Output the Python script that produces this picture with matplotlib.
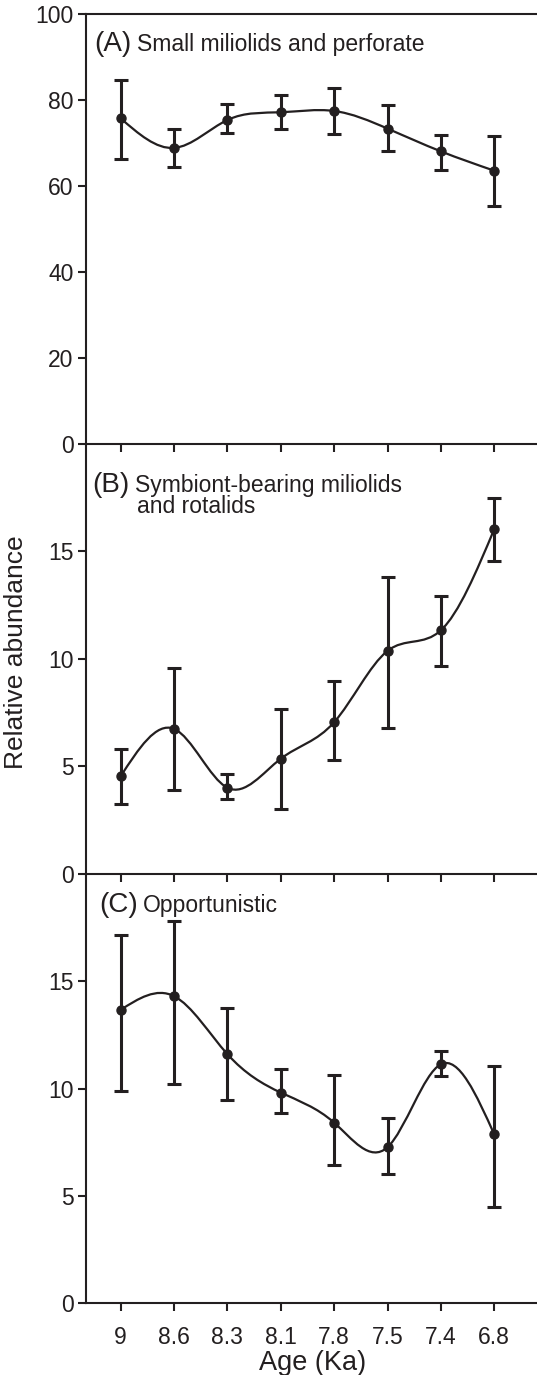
import numpy as np
import matplotlib
matplotlib.use('Agg')
import matplotlib.pyplot as plt
from matplotlib.path import Path
import matplotlib.patches as mpatches

plt.rcParams['font.family'] = ['Liberation Sans', 'DejaVu Sans']

#Data
ages = ['9', '8.6', '8.3', '8.1', '7.8', '7.5', '7.4', '6.8']

a_mean = [75.8, 68.9, 75.4, 77.2, 77.5, 73.4, 68.1, 63.6]
a_upper = [84.8, 73.4, 79.2, 81.2, 82.9, 79.0, 71.9, 71.6]
a_lower = [66.4, 64.5, 72.4, 73.2, 72.2, 68.2, 63.8, 55.3]

b_mean = [4.53, 6.74, 4.00, 5.35, 7.05, 10.37, 11.33, 16.04]
b_upper = [5.78, 9.59, 4.66, 7.68, 8.97, 13.82, 12.93, 17.47]
b_lower = [3.23, 3.88, 3.49, 2.99, 5.28, 6.80, 9.66, 14.55]

c_mean = [13.66, 14.30, 11.60, 9.81, 8.41, 7.27, 11.13, 7.86]
c_upper = [17.15, 17.80, 13.74, 10.89, 10.65, 8.64, 11.76, 11.03]
c_lower = [9.89, 10.20, 9.45, 8.85, 6.46, 6.04, 10.56, 4.49]

ink = '#231f20'


def spline_path(x, y):
    '''Natural cubic spline through the points, written as bezier segments.'''
    x = np.asarray(x, float)
    y = np.asarray(y, float)
    n = len(x)
    h = np.diff(x)
    A = np.zeros((n, n))
    r = np.zeros(n)
    A[0, 0] = A[-1, -1] = 1
    for i in range(1, n - 1):
        A[i, i - 1] = h[i - 1]
        A[i, i] = 2 * (h[i - 1] + h[i])
        A[i, i + 1] = h[i]
        r[i] = 6 * ((y[i + 1] - y[i]) / h[i] - (y[i] - y[i - 1]) / h[i - 1])
    M = np.linalg.solve(A, r)
    m = np.empty(n)
    m[:-1] = np.diff(y) / h - h * (2 * M[:-1] + M[1:]) / 6
    m[-1] = (y[-1] - y[-2]) / h[-1] + h[-1] * (M[-2] + 2 * M[-1]) / 6

    verts = [(x[0], y[0])]
    codes = [Path.MOVETO]
    for i in range(n - 1):
        d = h[i] / 3
        verts += [(x[i] + d, y[i] + m[i] * d),
                  (x[i + 1] - d, y[i + 1] - m[i + 1] * d),
                  (x[i + 1], y[i + 1])]
        codes += [Path.CURVE4] * 3
    return Path(verts, codes)


def draw_panel(ax, mean, upper, lower, ylim, yticks):
    x = np.arange(len(ages))
    mean = np.asarray(mean)
    yerr = [mean - np.asarray(lower), np.asarray(upper) - mean]
    patch = mpatches.PathPatch(spline_path(x, mean), facecolor='none',
                               edgecolor=ink, lw=1.6, zorder=2)
    ax.add_patch(patch)
    ax.errorbar(x, mean, yerr=yerr, fmt='o', color=ink, ms=6.5,
                elinewidth=2.2, capsize=4.7, capthick=2.2, zorder=3)
    ax.set_facecolor('none')
    ax.set_xlim(-0.65, 7.8)
    ax.set_ylim(*ylim)
    ax.set_yticks(yticks)
    ax.set_xticks(x)
    ax.spines['right'].set_visible(False)
    ax.spines['top'].set_visible(False)
    for s in ('left', 'bottom', 'top'):
        ax.spines[s].set_linewidth(1.5)
        ax.spines[s].set_color(ink)
    ax.tick_params(direction='out', length=6, width=1.5, color=ink,
                   labelsize=16.5, labelcolor=ink, pad=3)


fig = plt.figure(figsize=(5.37, 13.75), dpi=100)
left, width, h = 0.160, 0.840, 0.3125
bottoms = [0.0521 + 2 * h, 0.0521 + h, 0.0521]
axA = fig.add_axes([left, bottoms[0], width, h])
axB = fig.add_axes([left, bottoms[1], width, h])
axC = fig.add_axes([left, bottoms[2], width, h])

draw_panel(axA, a_mean, a_upper, a_lower, (0, 100), [0, 20, 40, 60, 80, 100])
draw_panel(axB, b_mean, b_upper, b_lower, (0, 20), [0, 5, 10, 15])
draw_panel(axC, c_mean, c_upper, c_lower, (0, 20), [0, 5, 10, 15])
axA.spines['top'].set_visible(True)

for ax in (axA, axB):
    ax.tick_params(axis='x', labelbottom=False)
axC.set_xticklabels(ages)
axC.tick_params(axis='x', pad=10)

#Panel captions
axA.text(0.018, 0.914, '(A)', transform=axA.transAxes, fontsize=20, color=ink)
axA.text(0.113, 0.914, 'Small miliolids and perforate', transform=axA.transAxes,
         fontsize=16.5, color=ink)
axB.text(0.013, 0.888, '(B)', transform=axB.transAxes, fontsize=20, color=ink)
axB.text(0.109, 0.888, 'Symbiont-bearing miliolids', transform=axB.transAxes,
         fontsize=16.5, color=ink)
axB.text(0.113, 0.839, 'and rotalids', transform=axB.transAxes,
         fontsize=16.5, color=ink)
axC.text(0.029, 0.910, '(C)', transform=axC.transAxes, fontsize=20, color=ink)
axC.text(0.126, 0.910, 'Opportunistic', transform=axC.transAxes,
         fontsize=16.5, color=ink)

fig.text(0.030, 0.526, 'Relative abundance', rotation=90, va='center', ha='center',
         fontsize=19, color=ink)
fig.text(0.582, 0.004, 'Age (Ka)', ha='center', va='baseline',
         fontsize=19.5, color=ink)

fig.savefig('out.png', dpi=100)
